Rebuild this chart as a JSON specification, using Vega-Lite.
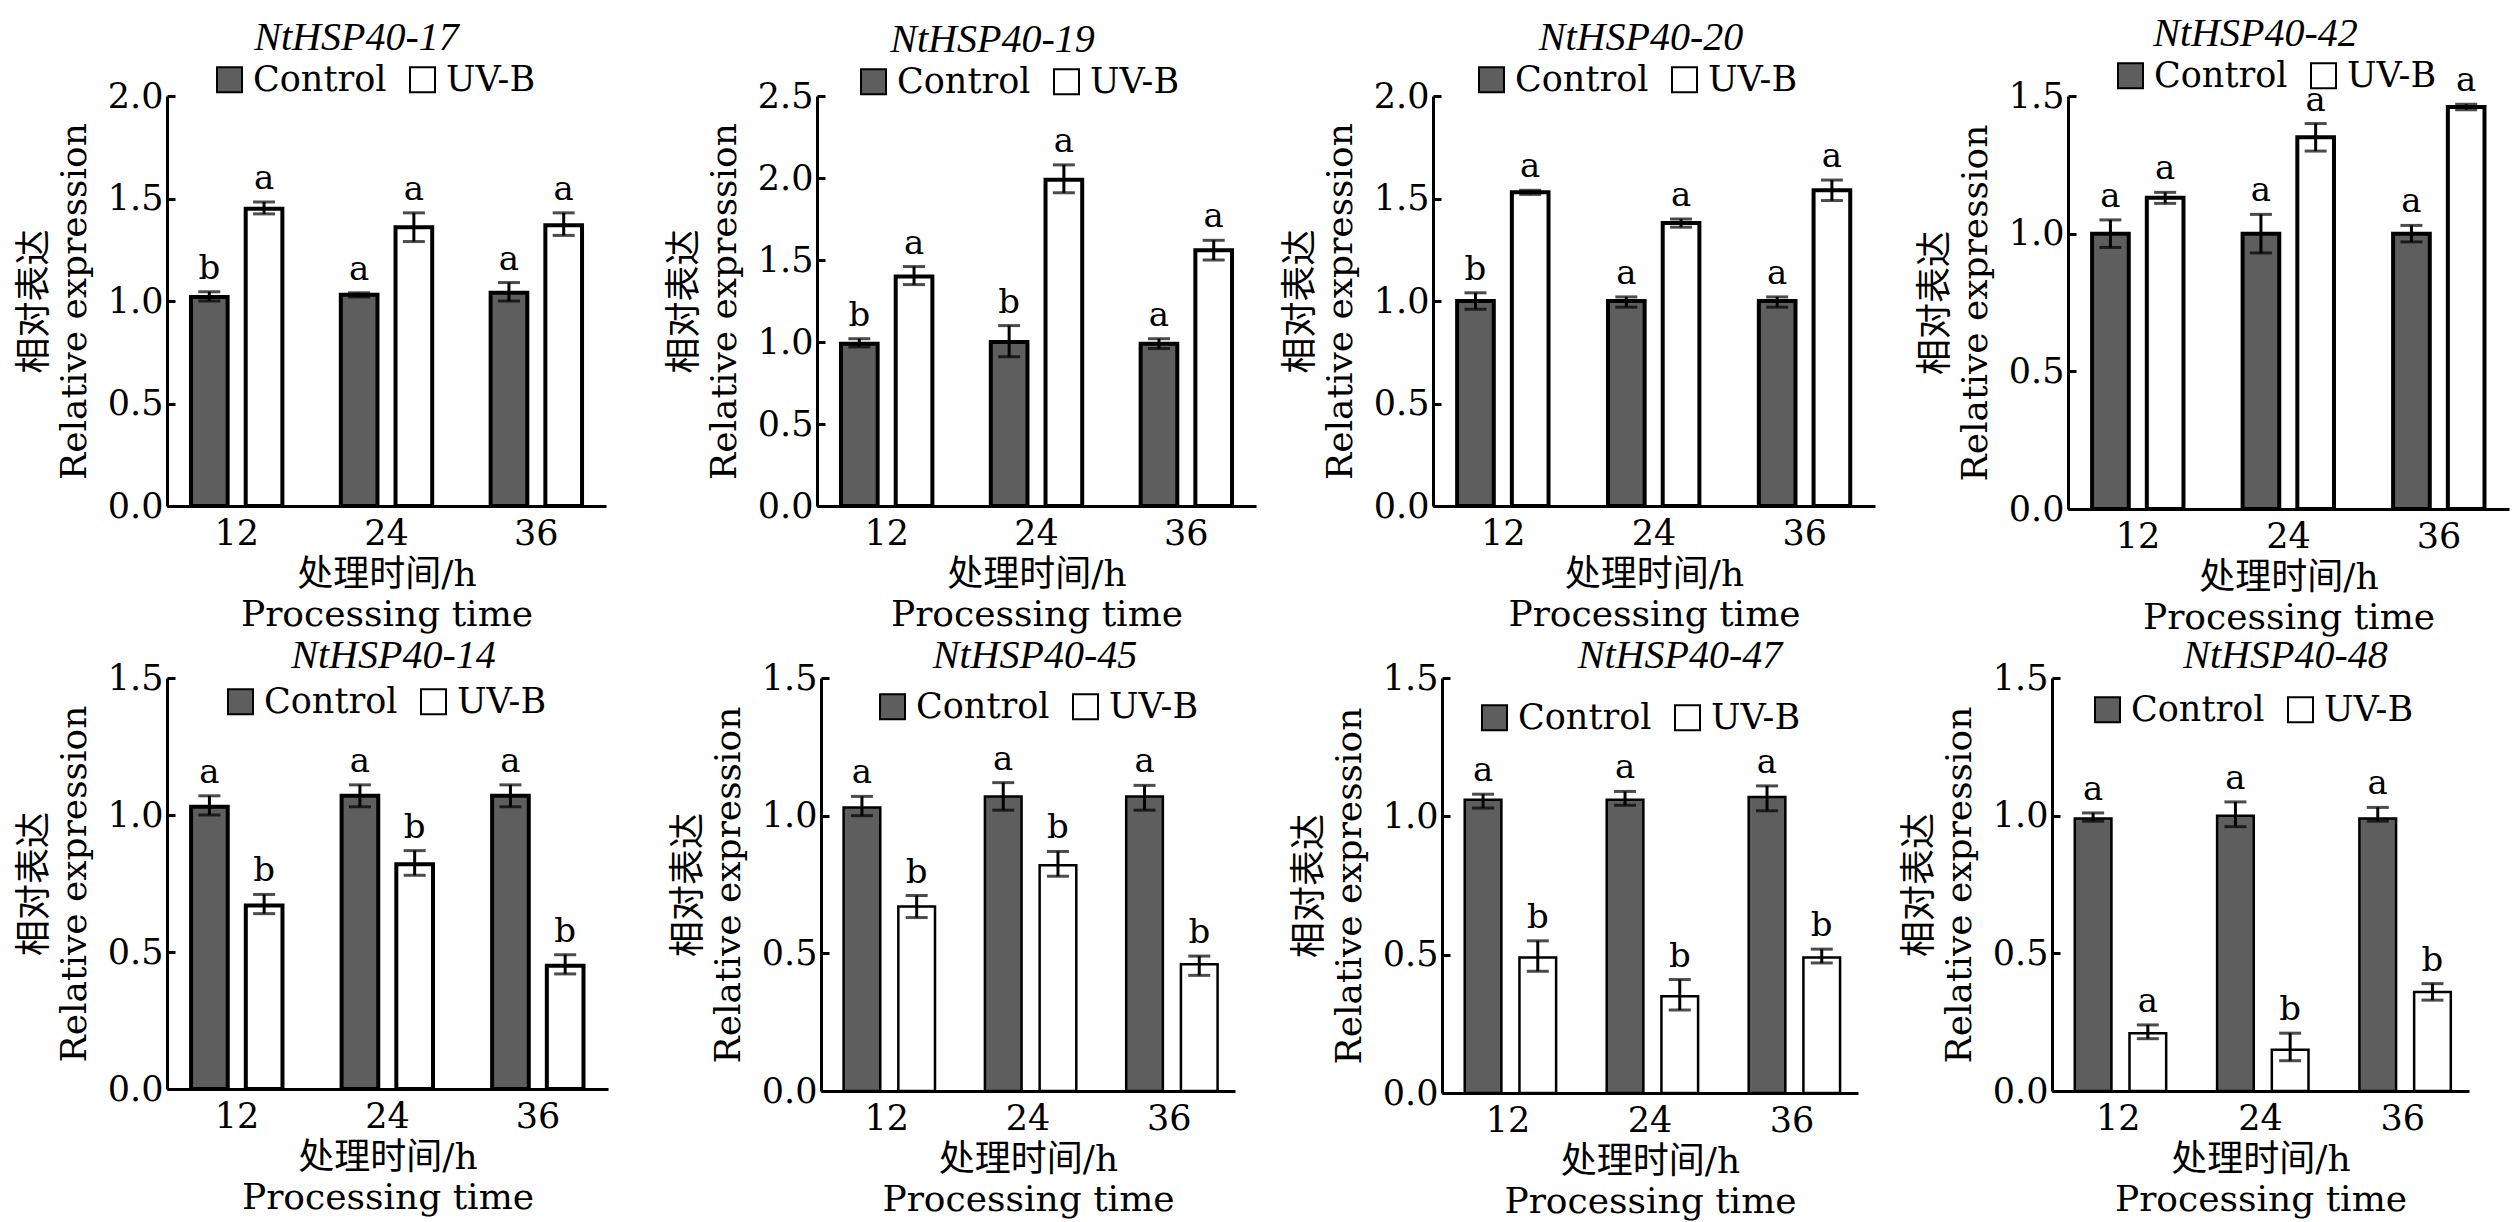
{
  "$schema": "https://vega.github.io/schema/vega-lite/v6.json",
  "description": "Relative expression of NtHSP40 genes under Control and UV-B at 12, 24 and 36 h.",
  "background": "white",
  "padding": {"left": 16, "top": 14, "right": 5, "bottom": 5},
  "datasets": {
    "expr": [
      {"gene": "NtHSP40-17", "time": "12", "group": "Control", "value": 1.02, "lo": 1.0, "hi": 1.045, "sig": "b"},
      {"gene": "NtHSP40-17", "time": "12", "group": "UV-B", "value": 1.45, "lo": 1.425, "hi": 1.483, "sig": "a"},
      {"gene": "NtHSP40-17", "time": "24", "group": "Control", "value": 1.03, "lo": 1.02, "hi": 1.04, "sig": "a"},
      {"gene": "NtHSP40-17", "time": "24", "group": "UV-B", "value": 1.36, "lo": 1.29, "hi": 1.43, "sig": "a"},
      {"gene": "NtHSP40-17", "time": "36", "group": "Control", "value": 1.04, "lo": 1.0, "hi": 1.09, "sig": "a"},
      {"gene": "NtHSP40-17", "time": "36", "group": "UV-B", "value": 1.37, "lo": 1.32, "hi": 1.43, "sig": "a"},

      {"gene": "NtHSP40-19", "time": "12", "group": "Control", "value": 0.99, "lo": 0.97, "hi": 1.02, "sig": "b"},
      {"gene": "NtHSP40-19", "time": "12", "group": "UV-B", "value": 1.4, "lo": 1.35, "hi": 1.46, "sig": "a"},
      {"gene": "NtHSP40-19", "time": "24", "group": "Control", "value": 1.0, "lo": 0.91, "hi": 1.1, "sig": "b"},
      {"gene": "NtHSP40-19", "time": "24", "group": "UV-B", "value": 1.99, "lo": 1.91, "hi": 2.08, "sig": "a"},
      {"gene": "NtHSP40-19", "time": "36", "group": "Control", "value": 0.99, "lo": 0.96, "hi": 1.02, "sig": "a"},
      {"gene": "NtHSP40-19", "time": "36", "group": "UV-B", "value": 1.56, "lo": 1.5, "hi": 1.62, "sig": "a"},

      {"gene": "NtHSP40-20", "time": "12", "group": "Control", "value": 1.0, "lo": 0.96, "hi": 1.04, "sig": "b"},
      {"gene": "NtHSP40-20", "time": "12", "group": "UV-B", "value": 1.53, "lo": 1.52, "hi": 1.54, "sig": "a"},
      {"gene": "NtHSP40-20", "time": "24", "group": "Control", "value": 1.0, "lo": 0.97, "hi": 1.02, "sig": "a"},
      {"gene": "NtHSP40-20", "time": "24", "group": "UV-B", "value": 1.38, "lo": 1.36, "hi": 1.4, "sig": "a"},
      {"gene": "NtHSP40-20", "time": "36", "group": "Control", "value": 1.0, "lo": 0.97, "hi": 1.02, "sig": "a"},
      {"gene": "NtHSP40-20", "time": "36", "group": "UV-B", "value": 1.54, "lo": 1.49, "hi": 1.59, "sig": "a"},

      {"gene": "NtHSP40-42", "time": "12", "group": "Control", "value": 1.0, "lo": 0.95, "hi": 1.05, "sig": "a"},
      {"gene": "NtHSP40-42", "time": "12", "group": "UV-B", "value": 1.13, "lo": 1.11, "hi": 1.15, "sig": "a"},
      {"gene": "NtHSP40-42", "time": "24", "group": "Control", "value": 1.0, "lo": 0.93, "hi": 1.07, "sig": "a"},
      {"gene": "NtHSP40-42", "time": "24", "group": "UV-B", "value": 1.35, "lo": 1.3, "hi": 1.4, "sig": "a"},
      {"gene": "NtHSP40-42", "time": "36", "group": "Control", "value": 1.0, "lo": 0.97, "hi": 1.03, "sig": "a"},
      {"gene": "NtHSP40-42", "time": "36", "group": "UV-B", "value": 1.46, "lo": 1.45, "hi": 1.47, "sig": "a"},

      {"gene": "NtHSP40-14", "time": "12", "group": "Control", "value": 1.03, "lo": 1.0, "hi": 1.07, "sig": "a"},
      {"gene": "NtHSP40-14", "time": "12", "group": "UV-B", "value": 0.67, "lo": 0.64, "hi": 0.71, "sig": "b"},
      {"gene": "NtHSP40-14", "time": "24", "group": "Control", "value": 1.07, "lo": 1.03, "hi": 1.11, "sig": "a"},
      {"gene": "NtHSP40-14", "time": "24", "group": "UV-B", "value": 0.82, "lo": 0.78, "hi": 0.87, "sig": "b"},
      {"gene": "NtHSP40-14", "time": "36", "group": "Control", "value": 1.07, "lo": 1.03, "hi": 1.11, "sig": "a"},
      {"gene": "NtHSP40-14", "time": "36", "group": "UV-B", "value": 0.45, "lo": 0.42, "hi": 0.49, "sig": "b"},

      {"gene": "NtHSP40-45", "time": "12", "group": "Control", "value": 1.03, "lo": 1.0, "hi": 1.07, "sig": "a"},
      {"gene": "NtHSP40-45", "time": "12", "group": "UV-B", "value": 0.67, "lo": 0.63, "hi": 0.71, "sig": "b"},
      {"gene": "NtHSP40-45", "time": "24", "group": "Control", "value": 1.07, "lo": 1.02, "hi": 1.12, "sig": "a"},
      {"gene": "NtHSP40-45", "time": "24", "group": "UV-B", "value": 0.82, "lo": 0.78, "hi": 0.87, "sig": "b"},
      {"gene": "NtHSP40-45", "time": "36", "group": "Control", "value": 1.07, "lo": 1.02, "hi": 1.11, "sig": "a"},
      {"gene": "NtHSP40-45", "time": "36", "group": "UV-B", "value": 0.46, "lo": 0.42, "hi": 0.49, "sig": "b"},

      {"gene": "NtHSP40-47", "time": "12", "group": "Control", "value": 1.06, "lo": 1.03, "hi": 1.08, "sig": "a"},
      {"gene": "NtHSP40-47", "time": "12", "group": "UV-B", "value": 0.49, "lo": 0.44, "hi": 0.55, "sig": "b"},
      {"gene": "NtHSP40-47", "time": "24", "group": "Control", "value": 1.06, "lo": 1.04, "hi": 1.09, "sig": "a"},
      {"gene": "NtHSP40-47", "time": "24", "group": "UV-B", "value": 0.35, "lo": 0.3, "hi": 0.41, "sig": "b"},
      {"gene": "NtHSP40-47", "time": "36", "group": "Control", "value": 1.07, "lo": 1.02, "hi": 1.11, "sig": "a"},
      {"gene": "NtHSP40-47", "time": "36", "group": "UV-B", "value": 0.49, "lo": 0.47, "hi": 0.52, "sig": "b"},

      {"gene": "NtHSP40-48", "time": "12", "group": "Control", "value": 0.99, "lo": 0.98, "hi": 1.01, "sig": "a"},
      {"gene": "NtHSP40-48", "time": "12", "group": "UV-B", "value": 0.21, "lo": 0.19, "hi": 0.24, "sig": "a"},
      {"gene": "NtHSP40-48", "time": "24", "group": "Control", "value": 1.0, "lo": 0.96, "hi": 1.05, "sig": "a"},
      {"gene": "NtHSP40-48", "time": "24", "group": "UV-B", "value": 0.15, "lo": 0.11, "hi": 0.21, "sig": "b"},
      {"gene": "NtHSP40-48", "time": "36", "group": "Control", "value": 0.99, "lo": 0.98, "hi": 1.03, "sig": "a"},
      {"gene": "NtHSP40-48", "time": "36", "group": "UV-B", "value": 0.36, "lo": 0.33, "hi": 0.39, "sig": "b"}
    ]
  },
  "data": {"name": "expr"},
  "spacing": 1,
  "resolve": {"scale": {"fill": "independent", "y": "independent", "x": "independent"}, "legend": {"fill": "independent"}},
  "vconcat": [
    {
      "spacing": 60,
      "resolve": {"scale": {"fill": "independent", "y": "independent", "x": "independent"}, "legend": {"fill": "independent"}},
      "hconcat": [
        {
          "width": 439, "height": 410,
          "title": {"text": "NtHSP40-17", "dx": -30},
          "transform": [{"filter": "datum.gene == 'NtHSP40-17'"}],
          "encoding": {
            "x": {"field": "time", "type": "nominal", "sort": ["12", "24", "36"], "scale": {"paddingInner": 0.39, "paddingOuter": 0.16}, "axis": {"title": ["处理时间/h", "Processing time"]}},
            "xOffset": {"field": "group", "type": "nominal", "sort": ["Control", "UV-B"], "scale": {"paddingInner": 0.33}}
          },
          "layer": [
            {
              "mark": {"type": "bar", "stroke": "black", "strokeWidth": 4},
              "encoding": {
                "y": {"field": "value", "type": "quantitative", "scale": {"domain": [0, 2], "nice": false}, "axis": {"values": [0, 0.5, 1, 1.5, 2], "title": ["相对表达", "Relative expression"]}},
                "fill": {"field": "group", "type": "nominal", "sort": ["Control", "UV-B"], "scale": {"range": ["#5e5e5e", "#ffffff"]}, "legend": {"legendX": 45, "legendY": -34}}
              }
            },
            {
              "mark": {"type": "errorbar", "ticks": true, "size": 22, "thickness": 3, "color": "black"},
              "encoding": {"y": {"field": "lo", "type": "quantitative", "scale": {"domain": [0, 2], "nice": false}, "axis": {"values": [0, 0.5, 1, 1.5, 2], "title": ["相对表达", "Relative expression"]}}, "y2": {"field": "hi"}}
            },
            {
              "mark": {"type": "text", "baseline": "bottom", "dy": -6, "fontSize": 34, "color": "black"},
              "encoding": {"y": {"field": "hi", "type": "quantitative", "scale": {"domain": [0, 2], "nice": false}, "axis": {"values": [0, 0.5, 1, 1.5, 2], "title": ["相对表达", "Relative expression"]}}, "text": {"field": "sig"}}
            }
          ]
        },
        {
          "spacing": 26,
          "resolve": {"scale": {"fill": "independent", "y": "independent", "x": "independent"}, "legend": {"fill": "independent"}},
          "hconcat": [
            {
              "width": 439, "height": 410,
              "title": {"text": "NtHSP40-19", "dx": -44},
              "transform": [{"filter": "datum.gene == 'NtHSP40-19'"}],
              "encoding": {
                "x": {"field": "time", "type": "nominal", "sort": ["12", "24", "36"], "scale": {"paddingInner": 0.39, "paddingOuter": 0.16}, "axis": {"title": ["处理时间/h", "Processing time"]}},
                "xOffset": {"field": "group", "type": "nominal", "sort": ["Control", "UV-B"], "scale": {"paddingInner": 0.33}}
              },
              "layer": [
                {
                  "mark": {"type": "bar", "stroke": "black", "strokeWidth": 4},
                  "encoding": {
                    "y": {"field": "value", "type": "quantitative", "scale": {"domain": [0, 2.5], "nice": false}, "axis": {"values": [0, 0.5, 1, 1.5, 2, 2.5], "title": ["相对表达", "Relative expression"]}},
                    "fill": {"field": "group", "type": "nominal", "sort": ["Control", "UV-B"], "scale": {"range": ["#5e5e5e", "#ffffff"]}, "legend": {"legendX": 39, "legendY": -32}}
                  }
                },
                {
                  "mark": {"type": "errorbar", "ticks": true, "size": 22, "thickness": 3, "color": "black"},
                  "encoding": {"y": {"field": "lo", "type": "quantitative", "scale": {"domain": [0, 2.5], "nice": false}, "axis": {"values": [0, 0.5, 1, 1.5, 2, 2.5], "title": ["相对表达", "Relative expression"]}}, "y2": {"field": "hi"}}
                },
                {
                  "mark": {"type": "text", "baseline": "bottom", "dy": -6, "fontSize": 34, "color": "black"},
                  "encoding": {"y": {"field": "hi", "type": "quantitative", "scale": {"domain": [0, 2.5], "nice": false}, "axis": {"values": [0, 0.5, 1, 1.5, 2, 2.5], "title": ["相对表达", "Relative expression"]}}, "text": {"field": "sig"}}
                }
              ]
            },
            {
              "spacing": 42,
              "resolve": {"scale": {"fill": "independent", "y": "independent", "x": "independent"}, "legend": {"fill": "independent"}},
              "hconcat": [
                {
                  "width": 442, "height": 410,
                  "title": {"text": "NtHSP40-20", "dx": -13},
                  "transform": [{"filter": "datum.gene == 'NtHSP40-20'"}],
                  "encoding": {
                    "x": {"field": "time", "type": "nominal", "sort": ["12", "24", "36"], "scale": {"paddingInner": 0.39, "paddingOuter": 0.16}, "axis": {"title": ["处理时间/h", "Processing time"]}},
                    "xOffset": {"field": "group", "type": "nominal", "sort": ["Control", "UV-B"], "scale": {"paddingInner": 0.33}}
                  },
                  "layer": [
                    {
                      "mark": {"type": "bar", "stroke": "black", "strokeWidth": 4},
                      "encoding": {
                        "y": {"field": "value", "type": "quantitative", "scale": {"domain": [0, 2], "nice": false}, "axis": {"values": [0, 0.5, 1, 1.5, 2], "title": ["相对表达", "Relative expression"]}},
                        "fill": {"field": "group", "type": "nominal", "sort": ["Control", "UV-B"], "scale": {"range": ["#5e5e5e", "#ffffff"]}, "legend": {"legendX": 41, "legendY": -34}}
                      }
                    },
                    {
                      "mark": {"type": "errorbar", "ticks": true, "size": 22, "thickness": 3, "color": "black"},
                      "encoding": {"y": {"field": "lo", "type": "quantitative", "scale": {"domain": [0, 2], "nice": false}, "axis": {"values": [0, 0.5, 1, 1.5, 2], "title": ["相对表达", "Relative expression"]}}, "y2": {"field": "hi"}}
                    },
                    {
                      "mark": {"type": "text", "baseline": "bottom", "dy": -6, "fontSize": 34, "color": "black"},
                      "encoding": {"y": {"field": "hi", "type": "quantitative", "scale": {"domain": [0, 2], "nice": false}, "axis": {"values": [0, 0.5, 1, 1.5, 2], "title": ["相对表达", "Relative expression"]}}, "text": {"field": "sig"}}
                    }
                  ]
                },
                {
                  "width": 441, "height": 413,
                  "title": {"text": "NtHSP40-42", "dx": -33},
                  "transform": [{"filter": "datum.gene == 'NtHSP40-42'"}],
                  "encoding": {
                    "x": {"field": "time", "type": "nominal", "sort": ["12", "24", "36"], "scale": {"paddingInner": 0.39, "paddingOuter": 0.16}, "axis": {"title": ["处理时间/h", "Processing time"]}},
                    "xOffset": {"field": "group", "type": "nominal", "sort": ["Control", "UV-B"], "scale": {"paddingInner": 0.33}}
                  },
                  "layer": [
                    {
                      "mark": {"type": "bar", "stroke": "black", "strokeWidth": 4},
                      "encoding": {
                        "y": {"field": "value", "type": "quantitative", "scale": {"domain": [0, 1.5], "nice": false}, "axis": {"values": [0, 0.5, 1, 1.5], "title": ["相对表达", "Relative expression"]}},
                        "fill": {"field": "group", "type": "nominal", "sort": ["Control", "UV-B"], "scale": {"range": ["#5e5e5e", "#ffffff"]}, "legend": {"legendX": 45, "legendY": -38}}
                      }
                    },
                    {
                      "mark": {"type": "errorbar", "ticks": true, "size": 22, "thickness": 3, "color": "black"},
                      "encoding": {"y": {"field": "lo", "type": "quantitative", "scale": {"domain": [0, 1.5], "nice": false}, "axis": {"values": [0, 0.5, 1, 1.5], "title": ["相对表达", "Relative expression"]}}, "y2": {"field": "hi"}}
                    },
                    {
                      "mark": {"type": "text", "baseline": "bottom", "dy": -6, "fontSize": 34, "color": "black"},
                      "encoding": {"y": {"field": "hi", "type": "quantitative", "scale": {"domain": [0, 1.5], "nice": false}, "axis": {"values": [0, 0.5, 1, 1.5], "title": ["相对表达", "Relative expression"]}}, "text": {"field": "sig"}}
                    }
                  ]
                }
              ]
            }
          ]
        }
      ]
    },
    {
      "spacing": 62,
      "resolve": {"scale": {"fill": "independent", "y": "independent", "x": "independent"}, "legend": {"fill": "independent"}},
      "hconcat": [
        {
          "width": 441, "height": 411,
          "title": {"text": "NtHSP40-14", "dx": 6, "offset": -15},
          "transform": [{"filter": "datum.gene == 'NtHSP40-14'"}],
          "encoding": {
            "x": {"field": "time", "type": "nominal", "sort": ["12", "24", "36"], "scale": {"paddingInner": 0.39, "paddingOuter": 0.16}, "axis": {"title": ["处理时间/h", "Processing time"]}},
            "xOffset": {"field": "group", "type": "nominal", "sort": ["Control", "UV-B"], "scale": {"paddingInner": 0.33}}
          },
          "layer": [
            {
              "mark": {"type": "bar", "stroke": "black", "strokeWidth": 4},
              "encoding": {
                "y": {"field": "value", "type": "quantitative", "scale": {"domain": [0, 1.5], "nice": false}, "axis": {"values": [0, 0.5, 1, 1.5], "title": ["相对表达", "Relative expression"]}},
                "fill": {"field": "group", "type": "nominal", "sort": ["Control", "UV-B"], "scale": {"range": ["#5e5e5e", "#ffffff"]}, "legend": {"legendX": 56, "legendY": 6}}
              }
            },
            {
              "mark": {"type": "errorbar", "ticks": true, "size": 22, "thickness": 3, "color": "black"},
              "encoding": {"y": {"field": "lo", "type": "quantitative", "scale": {"domain": [0, 1.5], "nice": false}, "axis": {"values": [0, 0.5, 1, 1.5], "title": ["相对表达", "Relative expression"]}}, "y2": {"field": "hi"}}
            },
            {
              "mark": {"type": "text", "baseline": "bottom", "dy": -6, "fontSize": 34, "color": "black"},
              "encoding": {"y": {"field": "hi", "type": "quantitative", "scale": {"domain": [0, 1.5], "nice": false}, "axis": {"values": [0, 0.5, 1, 1.5], "title": ["相对表达", "Relative expression"]}}, "text": {"field": "sig"}}
            }
          ]
        },
        {
          "spacing": 56,
          "resolve": {"scale": {"fill": "independent", "y": "independent", "x": "independent"}, "legend": {"fill": "independent"}},
          "hconcat": [
            {
              "width": 414, "height": 413,
              "title": {"text": "NtHSP40-45", "dx": 7, "offset": -15},
              "transform": [{"filter": "datum.gene == 'NtHSP40-45'"}],
              "encoding": {
                "x": {"field": "time", "type": "nominal", "sort": ["12", "24", "36"], "scale": {"paddingInner": 0.39, "paddingOuter": 0.16}, "axis": {"title": ["处理时间/h", "Processing time"]}},
                "xOffset": {"field": "group", "type": "nominal", "sort": ["Control", "UV-B"], "scale": {"paddingInner": 0.33}}
              },
              "layer": [
                {
                  "mark": {"type": "bar", "stroke": "black", "strokeWidth": 2.5},
                  "encoding": {
                    "y": {"field": "value", "type": "quantitative", "scale": {"domain": [0, 1.5], "nice": false}, "axis": {"values": [0, 0.5, 1, 1.5], "title": ["相对表达", "Relative expression"]}},
                    "fill": {"field": "group", "type": "nominal", "sort": ["Control", "UV-B"], "scale": {"range": ["#5e5e5e", "#ffffff"]}, "legend": {"legendX": 54, "legendY": 11}}
                  }
                },
                {
                  "mark": {"type": "errorbar", "ticks": true, "size": 22, "thickness": 3, "color": "black"},
                  "encoding": {"y": {"field": "lo", "type": "quantitative", "scale": {"domain": [0, 1.5], "nice": false}, "axis": {"values": [0, 0.5, 1, 1.5], "title": ["相对表达", "Relative expression"]}}, "y2": {"field": "hi"}}
                },
                {
                  "mark": {"type": "text", "baseline": "bottom", "dy": -6, "fontSize": 34, "color": "black"},
                  "encoding": {"y": {"field": "hi", "type": "quantitative", "scale": {"domain": [0, 1.5], "nice": false}, "axis": {"values": [0, 0.5, 1, 1.5], "title": ["相对表达", "Relative expression"]}}, "text": {"field": "sig"}}
                }
              ]
            },
            {
              "spacing": 43,
              "resolve": {"scale": {"fill": "independent", "y": "independent", "x": "independent"}, "legend": {"fill": "independent"}},
              "hconcat": [
                {
                  "width": 416, "height": 415,
                  "title": {"text": "NtHSP40-47", "dx": 30, "offset": -15},
                  "transform": [{"filter": "datum.gene == 'NtHSP40-47'"}],
                  "encoding": {
                    "x": {"field": "time", "type": "nominal", "sort": ["12", "24", "36"], "scale": {"paddingInner": 0.39, "paddingOuter": 0.16}, "axis": {"title": ["处理时间/h", "Processing time"]}},
                    "xOffset": {"field": "group", "type": "nominal", "sort": ["Control", "UV-B"], "scale": {"paddingInner": 0.33}}
                  },
                  "layer": [
                    {
                      "mark": {"type": "bar", "stroke": "black", "strokeWidth": 2.5},
                      "encoding": {
                        "y": {"field": "value", "type": "quantitative", "scale": {"domain": [0, 1.5], "nice": false}, "axis": {"values": [0, 0.5, 1, 1.5], "title": ["相对表达", "Relative expression"]}},
                        "fill": {"field": "group", "type": "nominal", "sort": ["Control", "UV-B"], "scale": {"range": ["#5e5e5e", "#ffffff"]}, "legend": {"legendX": 35, "legendY": 22}}
                      }
                    },
                    {
                      "mark": {"type": "errorbar", "ticks": true, "size": 22, "thickness": 3, "color": "black"},
                      "encoding": {"y": {"field": "lo", "type": "quantitative", "scale": {"domain": [0, 1.5], "nice": false}, "axis": {"values": [0, 0.5, 1, 1.5], "title": ["相对表达", "Relative expression"]}}, "y2": {"field": "hi"}}
                    },
                    {
                      "mark": {"type": "text", "baseline": "bottom", "dy": -6, "fontSize": 34, "color": "black"},
                      "encoding": {"y": {"field": "hi", "type": "quantitative", "scale": {"domain": [0, 1.5], "nice": false}, "axis": {"values": [0, 0.5, 1, 1.5], "title": ["相对表达", "Relative expression"]}}, "text": {"field": "sig"}}
                    }
                  ]
                },
                {
                  "width": 417, "height": 413,
                  "title": {"text": "NtHSP40-48", "dx": 25, "offset": -15},
                  "transform": [{"filter": "datum.gene == 'NtHSP40-48'"}],
                  "encoding": {
                    "x": {"field": "time", "type": "nominal", "sort": ["12", "24", "36"], "scale": {"paddingInner": 0.39, "paddingOuter": 0.16}, "axis": {"title": ["处理时间/h", "Processing time"]}},
                    "xOffset": {"field": "group", "type": "nominal", "sort": ["Control", "UV-B"], "scale": {"paddingInner": 0.33}}
                  },
                  "layer": [
                    {
                      "mark": {"type": "bar", "stroke": "black", "strokeWidth": 2.5},
                      "encoding": {
                        "y": {"field": "value", "type": "quantitative", "scale": {"domain": [0, 1.5], "nice": false}, "axis": {"values": [0, 0.5, 1, 1.5], "title": ["相对表达", "Relative expression"]}},
                        "fill": {"field": "group", "type": "nominal", "sort": ["Control", "UV-B"], "scale": {"range": ["#5e5e5e", "#ffffff"]}, "legend": {"legendX": 38, "legendY": 14}}
                      }
                    },
                    {
                      "mark": {"type": "errorbar", "ticks": true, "size": 22, "thickness": 3, "color": "black"},
                      "encoding": {"y": {"field": "lo", "type": "quantitative", "scale": {"domain": [0, 1.5], "nice": false}, "axis": {"values": [0, 0.5, 1, 1.5], "title": ["相对表达", "Relative expression"]}}, "y2": {"field": "hi"}}
                    },
                    {
                      "mark": {"type": "text", "baseline": "bottom", "dy": -6, "fontSize": 34, "color": "black"},
                      "encoding": {"y": {"field": "hi", "type": "quantitative", "scale": {"domain": [0, 1.5], "nice": false}, "axis": {"values": [0, 0.5, 1, 1.5], "title": ["相对表达", "Relative expression"]}}, "text": {"field": "sig"}}
                    }
                  ]
                }
              ]
            }
          ]
        }
      ]
    }
  ],
  "config": {
    "font": "DejaVu Serif, Noto Sans CJK SC",
    "view": {"stroke": null},
    "axis": {
      "grid": false,
      "domainColor": "black",
      "domainWidth": 3,
      "tickColor": "black",
      "tickWidth": 3,
      "labelColor": "black",
      "titleColor": "black",
      "labelFont": "DejaVu Serif, Noto Sans CJK SC",
      "titleFont": "DejaVu Serif, Noto Sans CJK SC",
      "labelFontSize": 35,
      "titleFontSize": 36,
      "titleFontWeight": "normal"
    },
    "axisX": {"ticks": false, "labelAngle": 0, "labelPadding": 10, "titlePadding": 6, "titleLineHeight": 40},
    "axisY": {"tickSize": -8, "labelPadding": 12, "titlePadding": 14, "titleLineHeight": 40, "format": ".1f"},
    "legend": {
      "orient": "none",
      "direction": "horizontal",
      "title": null,
      "padding": 0,
      "symbolType": "square",
      "symbolSize": 625,
      "symbolStrokeColor": "black",
      "symbolStrokeWidth": 2,
      "symbolOpacity": 1,
      "labelFont": "DejaVu Serif, Noto Sans CJK SC",
      "labelFontSize": 35,
      "labelColor": "black",
      "labelOffset": 6,
      "columnPadding": 18
    },
    "title": {"font": "Liberation Serif", "fontStyle": "italic", "fontSize": 40, "fontWeight": "normal", "color": "black", "frame": "group", "anchor": "middle"},
    "text": {"font": "DejaVu Serif, Noto Sans CJK SC"}
  }
}
